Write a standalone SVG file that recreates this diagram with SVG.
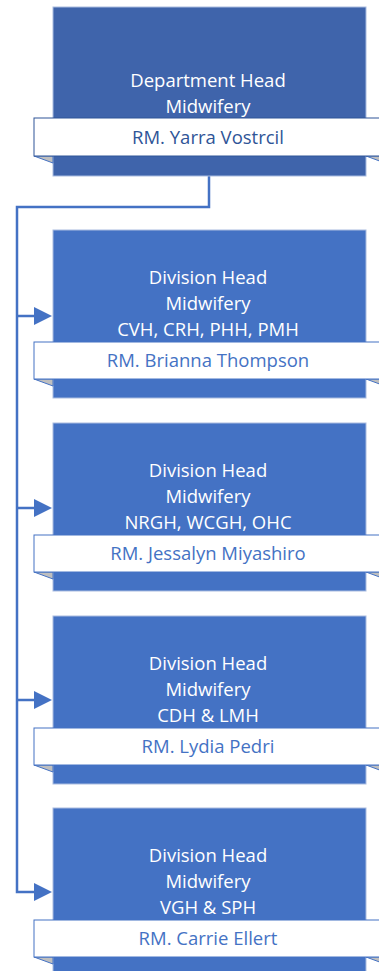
<svg xmlns="http://www.w3.org/2000/svg" width="379" height="971" viewBox="0 0 379 971">
<style>
.box{fill:#4472C4;stroke:#A9BCE0;stroke-width:1}
.top{fill:#3F64AB;stroke:#A9BCE0;stroke-width:1}
.ban{fill:#FFFFFF;stroke:#4472C4;stroke-width:1}
.bantop{fill:#FFFFFF;stroke:#2F5597;stroke-width:1}
.fold{fill:#BFBFBF;stroke:#4472C4;stroke-width:1}
.t{font-family:"Open Sans","Liberation Sans",sans-serif;font-size:18.5px;fill:#FFFFFF;text-anchor:middle}
.n{font-family:"Open Sans","Liberation Sans",sans-serif;font-size:18.5px;fill:#4472C4;text-anchor:middle}
.nt{fill:#2F5597}
.c{fill:none;stroke:#4472C4;stroke-width:2.5}
.ah{fill:#4472C4}
</style>
<g id="connectors">
<path class="c" d="M209,176 V207 H17 V892 H36"/>
<path class="c" d="M17,316 H36 M17,508 H36 M17,700 H36"/>
<polygon class="ah" points="52,316 34,307 34,325"/>
<polygon class="ah" points="52,508 34,499 34,517"/>
<polygon class="ah" points="52,700 34,691 34,709"/>
<polygon class="ah" points="52,892 34,883 34,901"/>
</g>
<g id="dept-head">
<rect class="top" x="53" y="7" width="313" height="169"/>
<polygon class="fold" points="34,156 53,163 53,156"/>
<polygon class="fold" points="366,156 385,163 385,156"/>
<rect class="bantop" x="34" y="118" width="350" height="38"/>
<text class="t" x="208" y="87">Department Head</text>
<text class="t" x="208" y="113">Midwifery</text>
<text class="n nt" x="208" y="144">RM. Yarra Vostrcil</text>
</g>
<g id="div1">
<rect class="box" x="53" y="230" width="313" height="168"/>
<polygon class="fold" points="34,379 53,386 53,379"/>
<polygon class="fold" points="366,379 385,386 385,379"/>
<rect class="ban" x="34" y="342" width="350" height="37"/>
<text class="t" x="208" y="284">Division Head</text>
<text class="t" x="208" y="310">Midwifery</text>
<text class="t" x="208" y="336">CVH, CRH, PHH, PMH</text>
<text class="n" x="208" y="367">RM. Brianna Thompson</text>
</g>
<g id="div2">
<rect class="box" x="53" y="423" width="313" height="168"/>
<polygon class="fold" points="34,572 53,579 53,572"/>
<polygon class="fold" points="366,572 385,579 385,572"/>
<rect class="ban" x="34" y="535" width="350" height="37"/>
<text class="t" x="208" y="477">Division Head</text>
<text class="t" x="208" y="503">Midwifery</text>
<text class="t" x="208" y="529">NRGH, WCGH, OHC</text>
<text class="n" x="208" y="560">RM. Jessalyn Miyashiro</text>
</g>
<g id="div3">
<rect class="box" x="53" y="616" width="313" height="168"/>
<polygon class="fold" points="34,765 53,772 53,765"/>
<polygon class="fold" points="366,765 385,772 385,765"/>
<rect class="ban" x="34" y="728" width="350" height="37"/>
<text class="t" x="208" y="670">Division Head</text>
<text class="t" x="208" y="696">Midwifery</text>
<text class="t" x="208" y="722">CDH &amp; LMH</text>
<text class="n" x="208" y="753">RM. Lydia Pedri</text>
</g>
<g id="div4">
<rect class="box" x="53" y="808" width="313" height="168"/>
<polygon class="fold" points="34,957 53,964 53,957"/>
<polygon class="fold" points="366,957 385,964 385,957"/>
<rect class="ban" x="34" y="920" width="350" height="37"/>
<text class="t" x="208" y="862">Division Head</text>
<text class="t" x="208" y="888">Midwifery</text>
<text class="t" x="208" y="914">VGH &amp; SPH</text>
<text class="n" x="208" y="945">RM. Carrie Ellert</text>
</g>
</svg>
